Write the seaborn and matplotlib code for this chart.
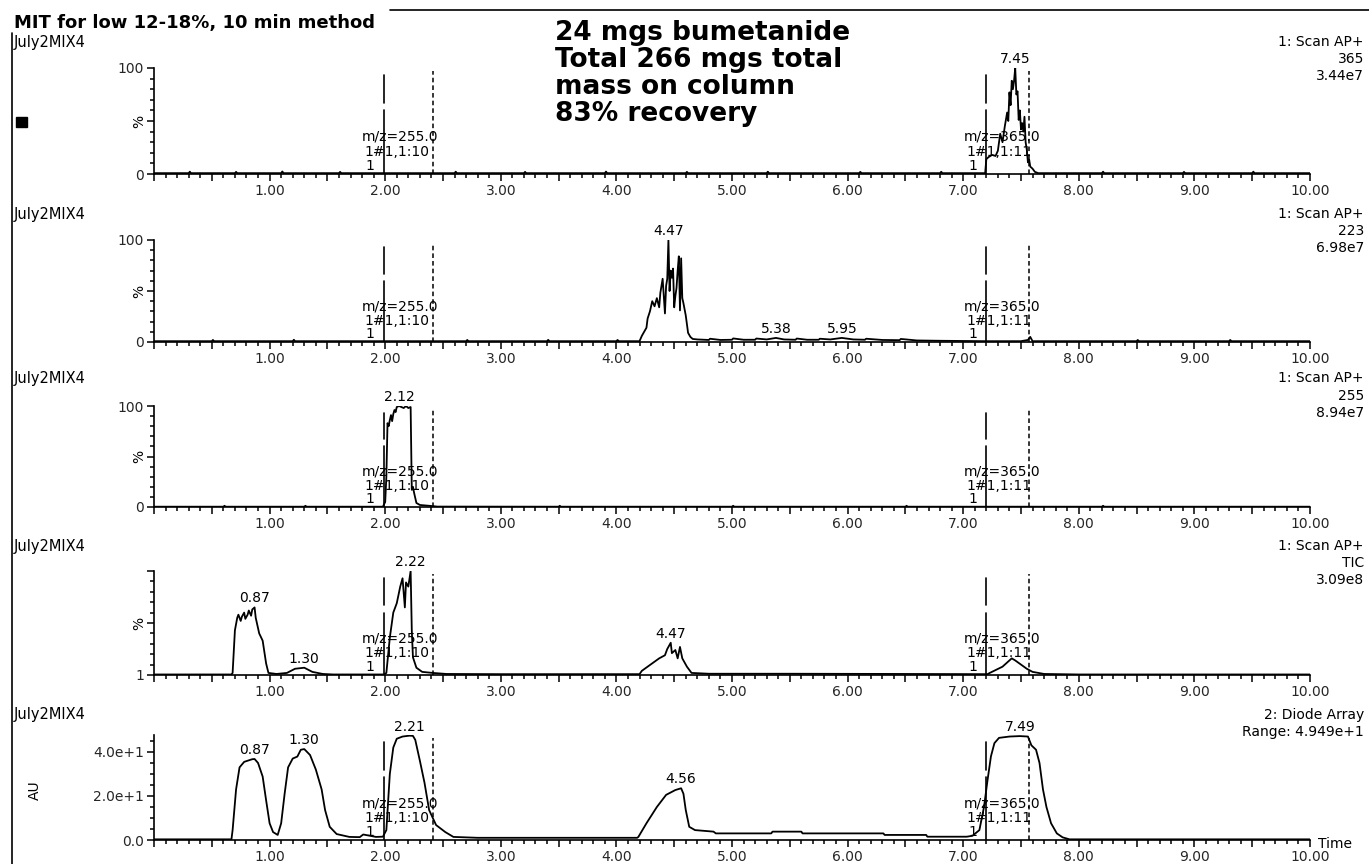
import matplotlib
matplotlib.use("Agg")
import matplotlib.pyplot as plt
import seaborn as sns
from matplotlib.ticker import MultipleLocator, FixedLocator, FixedFormatter, FuncFormatter
from matplotlib.transforms import blended_transform_factory
from matplotlib.lines import Line2D
from matplotlib.patches import Rectangle

# ------------------------------------------------------------------ data
# Panel 1: 1: Scan AP+ 365
t_365 = [0.00, 0.30, 0.31, 0.32, 0.70, 0.71, 0.72, 1.10, 1.11, 1.12, 1.60, 1.61, 1.62,
         2.60, 2.61, 2.62, 3.20, 3.21, 3.22, 3.90, 3.91, 3.92, 4.60, 4.61, 4.62,
         5.30, 5.31, 5.32, 6.10, 6.11, 6.12, 6.80, 6.81, 6.82, 7.19,
         7.20, 7.22, 7.25, 7.28, 7.30, 7.32, 7.34, 7.36, 7.38, 7.39, 7.40, 7.41, 7.42,
         7.43, 7.44, 7.45, 7.46, 7.47, 7.48, 7.49, 7.50, 7.51, 7.52, 7.53, 7.54, 7.55,
         7.56, 7.57, 7.58, 7.60, 7.62, 7.65,
         8.20, 8.21, 8.22, 8.90, 8.91, 8.92, 9.50, 9.51, 9.52, 10.00]
v_365 = [0.8, 0.8, 2.2, 0.8, 0.8, 2.0, 0.8, 0.8, 2.4, 0.8, 0.8, 2.0, 0.8,
         0.8, 2.2, 0.8, 0.8, 2.0, 0.8, 0.8, 2.3, 0.8, 0.8, 2.0, 0.8,
         0.8, 2.2, 0.8, 0.8, 2.0, 0.8, 0.8, 2.1, 0.8, 0.8,
         14, 16, 18, 17, 22, 38, 30, 45, 58, 50, 77, 65, 88,
         80, 88, 100, 75, 78, 51, 60, 42, 48, 40, 54, 30, 23,
         11, 14, 7, 5, 2, 0.8,
         0.8, 2.2, 0.8, 0.8, 2.0, 0.8, 0.8, 2.2, 0.8, 0.8]

# Panel 2: 1: Scan AP+ 223
t_223 = [0.00, 0.50, 0.51, 0.52, 1.20, 1.21, 1.22, 2.70, 2.71, 2.72, 3.40, 3.41, 3.42, 4.00, 4.01, 4.02, 4.20,
         4.22, 4.24, 4.26, 4.27, 4.29, 4.31, 4.33, 4.35, 4.37, 4.38, 4.40, 4.41, 4.42, 4.43, 4.44, 4.45, 4.46,
         4.47, 4.48, 4.49, 4.50, 4.51, 4.52, 4.53, 4.54, 4.55, 4.56, 4.57, 4.58, 4.60, 4.62, 4.64, 4.66, 4.70,
         4.80, 4.81, 4.90, 5.00, 5.01, 5.10, 5.20, 5.21, 5.30, 5.38,
         5.45, 5.55, 5.56, 5.65, 5.75, 5.76, 5.85, 5.95, 6.05, 6.15,
         6.16, 6.30, 6.45, 6.46, 6.60, 6.80, 7.00, 7.20, 7.50, 7.56,
         7.58, 7.60, 8.00, 8.50, 8.51, 8.52, 9.30, 9.31, 9.32, 10.00]
v_223 = [0.8, 0.8, 2.0, 0.8, 0.8, 2.2, 0.8, 0.8, 2.0, 0.8, 0.8, 2.1, 0.8, 0.8, 2.0, 0.8, 0.8,
         6, 10, 14, 23, 30, 40, 35, 43, 34, 48, 62, 45, 28, 55, 62, 100, 50,
         70, 63, 72, 34, 45, 53, 70, 84, 31, 82, 43, 38, 26, 9, 5, 3, 2.5,
         2, 3.2, 2, 2.2, 3.5, 2.2, 2.2, 3.4, 2.5, 4,
         2.5, 2.2, 3.4, 2.2, 2.2, 3.2, 2.5, 4, 2.5, 2.2,
         3.2, 2.0, 1.8, 3.0, 1.5, 1.2, 1.0, 0.8, 0.8, 2,
         5, 0.8, 0.8, 0.8, 2.0, 0.8, 0.8, 2.0, 0.8, 0.8]

# Panel 3: 1: Scan AP+ 255
t_255 = [0.00, 0.60, 0.61, 0.62, 1.30, 1.31, 1.32, 1.98, 2.00, 2.01,
         2.02, 2.03, 2.04, 2.05, 2.06, 2.07, 2.08, 2.09, 2.10, 2.12,
         2.14, 2.16, 2.18, 2.20, 2.22, 2.23, 2.24, 2.25, 2.27, 2.30,
         2.35, 2.40, 2.45, 3.50, 3.51, 3.52, 5.00, 5.01, 5.02, 6.50,
         6.51, 6.52, 8.20, 8.21, 8.22, 10.00]
v_255 = [0.3, 0.3, 1.2, 0.3, 0.3, 1.2, 0.3, 0.3, 5, 30,
         83, 80, 86, 91, 85, 92, 96, 94, 99, 100,
         99, 98, 100, 98, 99, 17, 20, 14, 4, 2,
         1.5, 1, 0.4, 0.3, 1.2, 0.3, 0.3, 1.2, 0.3, 0.3,
         1.2, 0.3, 0.3, 1.2, 0.3, 0.3]

# Panel 4: 1: Scan AP+ TIC
t_tic = [0.00, 0.67, 0.68, 0.70, 0.72, 0.73, 0.75, 0.76, 0.78, 0.79,
         0.81, 0.82, 0.84, 0.85, 0.87, 0.88, 0.89, 0.91, 0.94, 0.97,
         0.99, 1.06, 1.15, 1.22, 1.30, 1.37, 1.46, 1.55, 1.99, 2.01,
         2.04, 2.07, 2.10, 2.13, 2.15, 2.17, 2.18, 2.20, 2.22, 2.23,
         2.24, 2.27, 2.32, 2.41, 2.53, 3.00, 4.20, 4.22, 4.27, 4.32,
         4.37, 4.42, 4.44, 4.47, 4.48, 4.51, 4.53, 4.55, 4.57, 4.61,
         4.65, 4.80, 5.50, 6.50, 7.21, 7.23, 7.34, 7.42, 7.45, 7.50,
         7.55, 7.60, 7.70, 8.00, 10.00]
v_tic = [0.5, 0.5, 2, 43, 55, 58, 52, 56, 60, 54,
         58, 62, 57, 63, 65, 55, 50, 40, 33, 11,
         2, 1, 2, 6, 7, 3, 1, 0.5, 0.5, 2,
         36, 60, 69, 85, 93, 65, 89, 85, 100, 43,
         17, 7, 3, 2, 1, 0.8, 0.8, 4, 8, 12,
         16, 19, 25, 31, 21, 24, 16, 27, 16, 8,
         2, 1.2, 1.2, 1.0, 0.8, 2, 8, 16, 14, 10,
         6, 3, 1, 0.5, 0.5]

# Panel 5: 2: Diode Array (AU)
t_uv = [0.00, 0.67, 0.68, 0.71, 0.74, 0.78, 0.85, 0.87, 0.90, 0.94,
        0.97, 1.00, 1.03, 1.07, 1.10, 1.13, 1.16, 1.20, 1.24, 1.27,
        1.30, 1.35, 1.40, 1.45, 1.48, 1.52, 1.58, 1.69, 1.78, 1.81,
        1.92, 1.98, 2.01, 2.04, 2.07, 2.10, 2.15, 2.21, 2.24, 2.26,
        2.30, 2.34, 2.38, 2.44, 2.52, 2.59, 2.80, 4.18, 4.19, 4.26,
        4.35, 4.43, 4.51, 4.56, 4.58, 4.60, 4.63, 4.68, 4.84, 4.86,
        5.34, 5.35, 5.60, 5.61, 6.31, 6.32, 6.68, 6.69, 7.03, 7.08,
        7.14, 7.18, 7.21, 7.24, 7.27, 7.31, 7.40, 7.49, 7.56, 7.59,
        7.63, 7.66, 7.69, 7.72, 7.76, 7.81, 7.86, 7.92, 10.00]
v_uv = [0.3, 0.3, 4.5, 23, 33, 35.5, 36.7, 36.8, 35, 28.8,
        18, 7.6, 3.6, 2.3, 7.6, 21, 33, 37, 37.9, 41,
        41.3, 38.6, 32, 23, 13.6, 6, 2.7, 1.4, 1.3, 2.5,
        1.4, 1.5, 4.5, 30, 42, 46, 47, 47.4, 47.3, 45.5,
        36, 26, 13.6, 6.8, 3.6, 1.4, 1.0, 1.0, 1.4, 7.6,
        15, 20.5, 22.7, 23.5, 21, 13.6, 6, 4.5, 3.8, 3.0,
        3.0, 3.8, 3.8, 3.0, 3.0, 2.3, 2.3, 1.5, 1.5, 1.9,
        4.5, 15, 27, 38, 44, 46.4, 47, 47.2, 47, 43,
        41, 35, 23, 15, 7.6, 3, 1.2, 0.3, 0.3]

# peak labels (retention time, height)
peaks_365 = [(7.45, 100)]
peaks_223 = [(4.45, 100), (5.38, 4), (5.95, 4)]
peaks_255 = [(2.12, 100)]
peaks_tic = [(0.87, 65), (1.30, 7), (2.22, 100), (4.47, 31)]
peaks_uv = [(0.87, 36.8), (1.30, 41.3), (2.21, 47.4), (4.56, 23.5), (7.49, 47.2)]
peak_text_223 = ["4.47", "5.38", "5.95"]

# header texts on the right of each panel
right_texts = [["1: Scan AP+", "365", "3.44e7"],
               ["1: Scan AP+", "223", "6.98e7"],
               ["1: Scan AP+", "255", "8.94e7"],
               ["1: Scan AP+", "TIC", "3.09e8"],
               ["2: Diode Array", "Range: 4.949e+1"]]

# function-marker lines and their labels
marker_solid = [1.99, 7.20]
marker_dashed = [2.41, 7.57]
marker_mz = ["m/z=255.0", "m/z=365.0"]
marker_fn = ["1#1,1:10", "1#1,1:11"]

x_tick_values = [1, 2, 3, 4, 5, 6, 7, 8, 9, 10]

note_lines = ["24 mgs bumetanide", "Total 266 mgs total", "mass on column", "83% recovery"]

for a, b in [(t_365, v_365), (t_223, v_223), (t_255, v_255), (t_tic, v_tic), (t_uv, v_uv)]:
    assert len(a) == len(b), (len(a), len(b))

# ------------------------------------------------------------------ figure
sns.set_style("white")
plt.rcParams['font.family'] = ['DejaVu Sans']
plt.rcParams['axes.linewidth'] = 1.2
plt.rcParams['text.color'] = 'black'

W, H = 1369, 864
fig = plt.figure(figsize=(W / 100, H / 100), dpi=100)
fig.patch.set_facecolor('white')

X0, X1 = 154, 1310
panel_px = [(68, 174), (240, 342), (406, 507), (571, 675), (735, 840)]
left_label_y = [42, 214, 378, 546, 715]
right_label_y = [[42, 59, 76], [214, 231, 248], [378, 396, 413], [546, 563, 580], [715, 732]]

series = [(t_365, v_365, peaks_365, None),
          (t_223, v_223, peaks_223, peak_text_223),
          (t_255, v_255, peaks_255, None),
          (t_tic, v_tic, peaks_tic, None),
          (t_uv, v_uv, peaks_uv, None)]

FS = 10

def fx(px):
    return px / W

def fy(py):
    return 1 - py / H

for i, ((top, bot), (t, v, pk, pk_txt)) in enumerate(zip(panel_px, series)):
    ax = fig.add_axes([fx(X0), fy(bot), (X1 - X0) / W, (bot - top) / H])
    ax.set_facecolor('none')
    sns.lineplot(x=t, y=v, ax=ax, color='black', linewidth=1.3,
                 estimator=None, sort=False, legend=False)
    ax.set_xlim(0, 10)
    for s in ['top', 'right']:
        ax.spines[s].set_visible(False)
    ax.spines['left'].set_color('black')
    ax.spines['bottom'].set_color('black')

    # x axis
    ax.xaxis.set_major_locator(MultipleLocator(0.5))
    ax.xaxis.set_minor_locator(MultipleLocator(0.1))
    ax.xaxis.set_major_formatter(FuncFormatter(
        lambda val, p: f"{val:.2f}" if (abs(val - round(val)) < 1e-6 and round(val) in x_tick_values) else ""))
    ax.tick_params(axis='x', which='major', length=5, width=1.1, pad=2, labelsize=FS,
                   direction='out', bottom=True, color='black')
    ax.tick_params(axis='x', which='minor', length=3, width=1.1, direction='out', bottom=True, color='black')

    # y axis
    if i < 4:
        ax.set_ylim(0, 100)
        ax.yaxis.set_major_locator(FixedLocator([0, 50, 100]))
        labels = ['0', '', '100'] if i < 3 else ['1', '', '']
        ax.yaxis.set_major_formatter(FixedFormatter(labels))
        ax.yaxis.set_minor_locator(MultipleLocator(10))
        ax.text(-0.013, 0.5, '%', transform=ax.transAxes, rotation=90,
                ha='center', va='center', fontsize=FS)
    else:
        ax.set_ylim(0, 47.7)
        ax.yaxis.set_major_locator(FixedLocator([0, 20, 40]))
        ax.yaxis.set_major_formatter(FixedFormatter(['0.0', '2.0e+1', '4.0e+1']))
        ax.yaxis.set_minor_locator(MultipleLocator(5))
    ax.tick_params(axis='y', which='major', length=5, width=1.1, pad=2, labelsize=FS,
                   direction='out', left=True, color='black')
    ax.tick_params(axis='y', which='minor', length=3, width=1.1, direction='out', left=True, color='black')
    ax.set_xlabel('')
    ax.set_ylabel('')

    # marker lines
    for xs in marker_solid:
        ax.axvline(xs, ymin=0, ymax=0.60, color='black', lw=1.2)
        ax.axvline(xs, ymin=0.67, ymax=0.93, color='black', lw=1.2)
    for xd in marker_dashed:
        ax.axvline(xd, ymin=0, ymax=0.97, color='black', lw=1.1, ls=(0, (3, 2)))
    tr = blended_transform_factory(ax.transData, ax.transAxes)
    for xs, mz, fn in zip(marker_solid, marker_mz, marker_fn):
        ax.text(xs + 0.14, 0.35, mz, transform=tr, ha='center', va='center', fontsize=FS)
        ax.text(xs + 0.11, 0.21, fn, transform=tr, ha='center', va='center', fontsize=FS)
        ax.text(xs - 0.12, 0.075, '1', transform=tr, ha='center', va='center', fontsize=FS)

    # peak labels
    for k, (pt, pv) in enumerate(pk):
        txt = pk_txt[k] if pk_txt else f"{pt:.2f}"
        ax.annotate(txt, (pt, pv), xytext=(0, 1.5), textcoords='offset points',
                    ha='center', va='bottom', fontsize=FS, annotation_clip=False)

    # left / right header texts
    fig.text(fx(14), fy(left_label_y[i]), "July2MIX4", ha='left', va='center', fontsize=10.5)
    for s, yy in zip(right_texts[i], right_label_y[i]):
        fig.text(fx(1364), fy(yy), s, ha='right', va='center', fontsize=FS)

# extra texts
fig.text(fx(14), fy(23), "MIT for low 12-18%, 10 min method", ha='left', va='center',
         fontsize=13, fontweight='bold')
for s, yy in zip(note_lines, [33, 60, 87, 114]):
    fig.text(fx(555), fy(yy), s, ha='left', va='center', fontsize=19, fontweight='bold')
fig.text(fx(35), fy(790), 'AU', rotation=90, ha='center', va='center', fontsize=FS)
fig.text(fx(1318), fy(844), 'Time', ha='left', va='center', fontsize=FS)

# frame decorations
fig.add_artist(Line2D([fx(390), 1.0], [fy(10), fy(10)], color='black', lw=1.2))
fig.add_artist(Line2D([fx(12), fx(12)], [fy(33), 0.0], color='black', lw=1.2))
fig.add_artist(Rectangle((fx(16), fy(127)), 11 / W, 10 / H, color='black',
                         transform=fig.transFigure))

fig.savefig('out.png', dpi=100, facecolor='white')
